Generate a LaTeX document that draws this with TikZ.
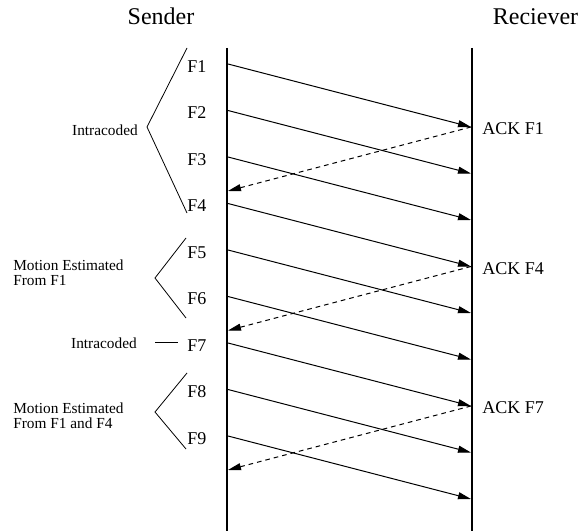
\documentclass[tikz,border=0pt]{standalone}
\usepackage{fontspec}
\setmainfont{Liberation Serif}
\usepackage{tikz}
\usetikzlibrary{arrows.meta,positioning}

\tikzset{
  frame/.style={anchor=west,inner sep=0.75pt,font=\fontsize{13.5}{16}\selectfont},
  acklabel/.style={anchor=west,inner sep=0.75pt,font=\fontsize{13.5}{16}\selectfont},
  side/.style={inner sep=0.75pt,font=\fontsize{11.5}{11.6}\selectfont,align=left},
  msg/.style={line width=0.75pt,-{Triangle[length=9.75pt,width=5.25pt]}},
  ackmsg/.style={msg,dash pattern=on 3.5pt off 3pt},
  brace/.style={line width=0.6pt}
}

\begin{document}
\begin{tikzpicture}[x=0.75pt,y=0.75pt,yscale=-1,xscale=1]
        \path[use as bounding box] (0,0) rectangle (582,531);
        % Text Node
        \node[inner sep=0.75pt,font=\fontsize{18}{20}\selectfont] (sender) at (161,16.5) {Sender};
        % Text Node
        \node[inner sep=0.75pt,font=\fontsize{18}{20}\selectfont] (reciever) at (535.5,16.5) {Reciever};
        %Straight Lines: time lines
        \coordinate (sTop) at (227,48);
        \coordinate (sBot) at (227,531);
        \coordinate (rTop) at (472,48);
        \coordinate (rBot) at (472,531);
        \draw[line width=1.4pt] (sTop) -- (sBot);
        \draw[line width=1.4pt] (rTop) -- (rBot);
        %Frames sent
        \foreach \i in {1,...,9}{
            \coordinate (s\i) at (228,{64+46.5*(\i-1)});
            \coordinate (r\i) at (471,{127+46.5*(\i-1)});
            \node[frame] (f\i) at (186,{66.5+46.5*(\i-1)}) {F\i};
            \draw[msg] (s\i) -- (r\i);
        }
        %Acknowledgements
        \foreach \i in {1,4,7}{
            \coordinate (a\i) at (228,{191+46.5*(\i-1)});
            \node[acklabel] (ack\i) at (481,{129+46.5*(\i-1)}) {ACK F\i};
            \draw[ackmsg] (r\i) -- (a\i);
        }
        %Shape: Brace F1--F4
        \coordinate (b1top) at (187,48);
        \coordinate (b1tip) at (147,127);
        \coordinate (b1bot) at (187,213);
        \draw[brace] (b1top) -- (b1tip) -- (b1bot);
        % Text Node
        \node[side,anchor=east] (intra1) at (139,130.5) {Intracoded};
        %Shape: Brace F5--F6
        \coordinate (b2top) at (186,238);
        \coordinate (b2tip) at (155,278);
        \coordinate (b2bot) at (186,318);
        \draw[brace] (b2top) -- (b2tip) -- (b2bot);
        % Text Node
        \node[side,anchor=west] (motion1) at (12,273) {Motion Estimated\\From F1};
        %Straight Lines: F7
        \coordinate (b3tip) at (155,342);
        \coordinate (b3end) at (178,342);
        \draw[brace] (b3tip) -- (b3end);
        % Text Node
        \node[side,anchor=east] (intra2) at (138,343.5) {Intracoded};
        %Shape: Brace F8--F9
        \coordinate (b4top) at (187,373);
        \coordinate (b4tip) at (155,412);
        \coordinate (b4bot) at (186,449);
        \draw[brace] (b4top) -- (b4tip) -- (b4bot);
        % Text Node
        \node[side,anchor=west] (motion2) at (12,416) {Motion Estimated\\From F1 and F4};
\end{tikzpicture}
\end{document}
